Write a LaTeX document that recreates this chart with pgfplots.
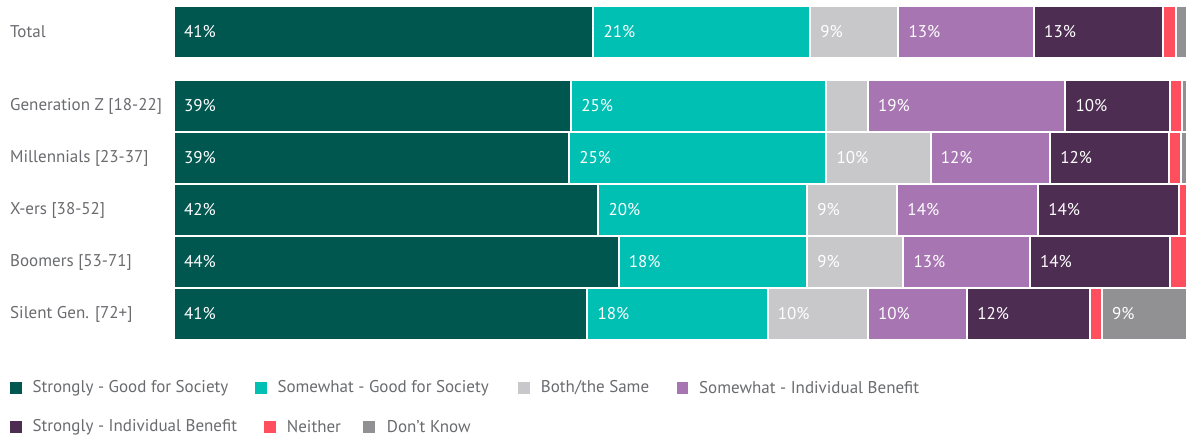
\documentclass[border=0pt]{standalone}
\usepackage{fontspec}
\setmainfont{PT Sans}
\usepackage{pgfplots}
\pgfplotsset{compat=1.18}
\definecolor{cSG}{HTML}{00574F}
\definecolor{cWG}{HTML}{00BFB3}
\definecolor{cBS}{HTML}{C8C8CA}
\definecolor{cWI}{HTML}{A775B2}
\definecolor{cSI}{HTML}{4E2D52}
\definecolor{cNE}{HTML}{FF4F5E}
\definecolor{cDK}{HTML}{919194}
\definecolor{txt}{HTML}{6A6B6E}
\tikzset{
  fnt/.style={font=\fontsize{17}{20}\selectfont},
  cat/.style={fnt, anchor=west, text=txt, inner sep=0pt, xshift=-164pt},
  val/.style={fnt, anchor=west, text=white, inner sep=0pt, xshift=10pt},
  leg/.style={fnt, anchor=west, text=txt, inner sep=0pt},
}
\begin{document}
\begin{tikzpicture}
\useasboundingbox (0pt,0pt) rectangle (1187pt,-441pt);
\begin{axis}[
  at={(174pt,-7pt)}, anchor=north west,
  scale only axis, width=1013pt, height=332pt,
  xbar stacked, bar width=52pt,
  xmin=0, xmax=100, ymin=-0.48077, ymax=5.90385,
  hide axis, clip=false,
]
% y: Silent=0, Boomers=1, X-ers=2, Millennials=3, GenZ=4, Total=5.423
\addplot[fill=cSG, draw=white, line width=2pt] coordinates {(41.4,5.423) (39.2,4) (39.0,3) (41.9,2) (43.9,1) (40.8,0)};
\addplot[fill=cWG, draw=white, line width=2pt] coordinates {(21.4,5.423) (25.2,4) (25.4,3) (20.6,2) (18.6,1) (17.8,0)};
\addplot[fill=cBS, draw=white, line width=2pt] coordinates {(8.7,5.423) (4.1,4) (10.3,3) (8.9,2) (9.5,1) (9.9,0)};
\addplot[fill=cWI, draw=white, line width=2pt] coordinates {(13.4,5.423) (19.5,4) (11.8,3) (13.9,2) (12.5,1) (9.8,0)};
\addplot[fill=cSI, draw=white, line width=2pt] coordinates {(12.7,5.423) (10.3,4) (11.7,3) (13.9,2) (13.8,1) (12.1,0)};
\addplot[fill=cNE, draw=white, line width=2pt] coordinates {(1.3,5.423) (1.2,4) (1.2,3) (0.8,2) (1.7,1) (1.2,0)};
\addplot[fill=cDK, draw=white, line width=2pt] coordinates {(1.1,5.423) (0.5,4) (0.6,3) (0,2) (0,1) (8.4,0)};
% category labels
\node[cat] at (axis cs:0,5.423) {Total};
\node[cat] at (axis cs:0,4) {Generation Z [18-22]};
\node[cat] at (axis cs:0,3) {Millennials [23-37]};
\node[cat] at (axis cs:0,2) {X-ers [38-52]};
\node[cat] at (axis cs:0,1) {Boomers [53-71]};
\node[cat] at (axis cs:0,0) {Silent Gen. [72+]};
% value label anchors
\coordinate (t1) at (axis cs:0,5.423);
\coordinate (t2) at (axis cs:41.4,5.423);
\coordinate (t3) at (axis cs:62.8,5.423);
\coordinate (t4) at (axis cs:71.5,5.423);
\coordinate (t5) at (axis cs:84.9,5.423);
\coordinate (g1) at (axis cs:0,4);
\coordinate (g2) at (axis cs:39.2,4);
\coordinate (g4) at (axis cs:68.5,4);
\coordinate (g5) at (axis cs:88.0,4);
\coordinate (m1) at (axis cs:0,3);
\coordinate (m2) at (axis cs:39.0,3);
\coordinate (m3) at (axis cs:64.4,3);
\coordinate (m4) at (axis cs:74.7,3);
\coordinate (m5) at (axis cs:86.5,3);
\coordinate (x1) at (axis cs:0,2);
\coordinate (x2) at (axis cs:41.9,2);
\coordinate (x3) at (axis cs:62.5,2);
\coordinate (x4) at (axis cs:71.4,2);
\coordinate (x5) at (axis cs:85.3,2);
\coordinate (b1) at (axis cs:0,1);
\coordinate (b2) at (axis cs:43.9,1);
\coordinate (b3) at (axis cs:62.5,1);
\coordinate (b4) at (axis cs:72.0,1);
\coordinate (b5) at (axis cs:84.5,1);
\coordinate (s1) at (axis cs:0,0);
\coordinate (s2) at (axis cs:40.8,0);
\coordinate (s3) at (axis cs:58.6,0);
\coordinate (s4) at (axis cs:68.5,0);
\coordinate (s5) at (axis cs:78.3,0);
\coordinate (s7) at (axis cs:91.6,0);
\end{axis}
% value labels
\node[val] at (t1) {41\%};
\node[val] at (t2) {21\%};
\node[val] at (t3) {9\%};
\node[val] at (t4) {13\%};
\node[val] at (t5) {13\%};
\node[val] at (g1) {39\%};
\node[val] at (g2) {25\%};
\node[val] at (g4) {19\%};
\node[val] at (g5) {10\%};
\node[val] at (m1) {39\%};
\node[val] at (m2) {25\%};
\node[val] at (m3) {10\%};
\node[val] at (m4) {12\%};
\node[val] at (m5) {12\%};
\node[val] at (x1) {42\%};
\node[val] at (x2) {20\%};
\node[val] at (x3) {9\%};
\node[val] at (x4) {14\%};
\node[val] at (x5) {14\%};
\node[val] at (b1) {44\%};
\node[val] at (b2) {18\%};
\node[val] at (b3) {9\%};
\node[val] at (b4) {13\%};
\node[val] at (b5) {14\%};
\node[val] at (s1) {41\%};
\node[val] at (s2) {18\%};
\node[val] at (s3) {10\%};
\node[val] at (s4) {10\%};
\node[val] at (s5) {12\%};
\node[val] at (s7) {9\%};
% legend
\fill[cSG] (10pt,-382.2pt) rectangle ++(11.7pt,-11.7pt);
\node[leg] at (32.3pt,-388pt) {Strongly - Good for Society};
\fill[cWG] (255pt,-382.2pt) rectangle ++(11.7pt,-11.7pt);
\node[leg] at (277.3pt,-388pt) {Somewhat - Good for Society};
\fill[cBS] (518.3pt,-382.2pt) rectangle ++(11.7pt,-11.7pt);
\node[leg] at (540.7pt,-388pt) {Both/the Same};
\fill[cWI] (676.7pt,-382.2pt) rectangle ++(11.7pt,-11.7pt);
\node[leg] at (699pt,-388pt) {Somewhat - Individual Benefit};
\fill[cSI] (10pt,-421.2pt) rectangle ++(11.7pt,-11.7pt);
\node[leg] at (32.3pt,-427pt) {Strongly - Individual Benefit};
\fill[cNE] (264pt,-421.2pt) rectangle ++(11.7pt,-11.7pt);
\node[leg] at (286.7pt,-427pt) {Neither};
\fill[cDK] (363.3pt,-421.2pt) rectangle ++(11.7pt,-11.7pt);
\node[leg] at (386.7pt,-427pt) {Don't Know};
\end{tikzpicture}
\end{document}
